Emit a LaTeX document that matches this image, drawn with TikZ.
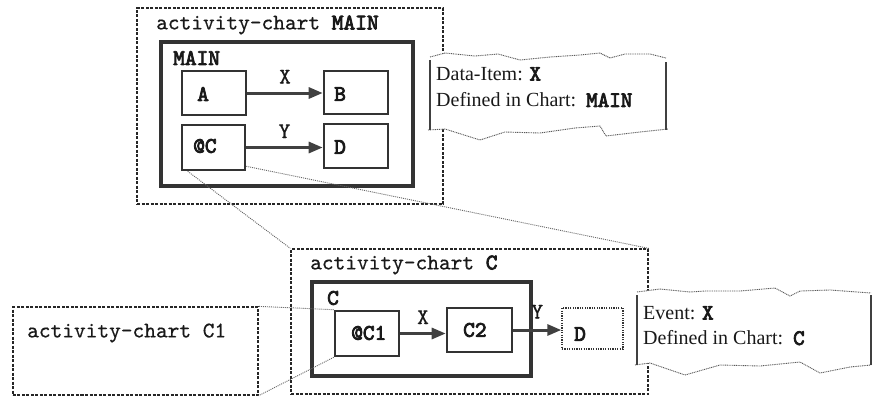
\documentclass[tikz,border=0pt]{standalone}
\usepackage{fontspec}
\setmainfont{Liberation Serif}
\newfontfamily\ttheavy{lmmono10-regular.otf}[FakeBold=3.5]
\newfontfamily\ttplain{lmmono10-regular.otf}[FakeBold=0.6]
\usetikzlibrary{arrows.meta}
\newcommand\notemonofont{\fontsize{22bp}{24bp}\selectfont\ttheavy}

\begin{document}
\begin{tikzpicture}[x=1bp,y=-1bp,
  chartbox/.style={draw=black!85, line width=1.3bp, dash pattern=on 3bp off 1.5bp,
    minimum width=#1, inner sep=0pt},
  framebox/.style={draw=black!80, line width=3.4bp, inner sep=0pt},
  actbox/.style={draw=black!80, line width=2.6bp, fill=white, inner sep=0pt},
  extbox/.style={draw=black!80, line width=1.4bp, dash pattern=on 1.2bp off 1.2bp, inner sep=0pt},
  flow/.style={draw=black!75, line width=3bp, -{Triangle[length=14bp,width=11bp]}},
  zoomline/.style={draw=black!60, line width=0.9bp, dash pattern=on 1bp off 1bp},
  mono/.style={font=\fontsize{22.3bp}{26bp}\selectfont\ttplain, inner sep=0pt, text=black!90},
  monob/.style={font=\fontsize{22.3bp}{26bp}\selectfont\ttheavy, inner sep=0pt, text=black!90},
  notetext/.style={font=\fontsize{20bp}{24bp}\selectfont, inner sep=0pt, anchor=west, text=black!90},
  wavy/.style={draw=black!65, line width=0.9bp, dash pattern=on 1bp off 0.8bp},
  notebar/.style={draw=black!75, line width=2.8bp}
]
\useasboundingbox (0,0) rectangle (880,397);

% ---------- chart MAIN ----------
\node[chartbox=306bp, minimum height=196bp] (mainOuter) at (290,106) {};
\node[mono, anchor=west] (mainTitle) at (156,25) {activity-chart {\ttheavy MAIN}};
\node[framebox, minimum width=252bp, minimum height=144bp] (mainFrame) at (287,114) {};
\node[monob, anchor=west] (mainName) at (173,58) {MAIN};

\node[actbox, minimum width=64bp, minimum height=44bp] (A) at (214,93) {};
\node[actbox, minimum width=64bp, minimum height=43bp] (B) at (356,92.5) {};
\node[actbox, minimum width=63bp, minimum height=45bp] (Cbox) at (213.5,147.5) {};
\node[actbox, minimum width=64bp, minimum height=44bp] (D) at (356,146) {};
\node[monob, anchor=west] (At) at (197,94) {A};
\node[monob, anchor=west] (Bt) at (334,94) {B};
\node[monob, anchor=west] (Ct) at (193,146) {@C};
\node[monob, anchor=west] (Dt) at (334,147) {D};

\draw[flow] (A.east) -- (A.east -| B.west) node[midway, mono, above=8bp] (Xmain) {X};
\draw[flow] (Cbox.east) -- (Cbox.east -| D.west) node[midway, mono, above=8bp] (Ymain) {Y};

% ---------- note on data-item X ----------
\fill[white] (430,57) -- (445,53) -- (475,56) -- (498,54) -- (520,60) -- (550,57)
  -- (580,55) -- (600,53) -- (610,58) -- (625,54) -- (650,54) -- (666,58)
  -- (668,129) -- (640,132) -- (606,136) -- (600,126) -- (575,128) -- (540,133)
  -- (505,132) -- (480,140) -- (445,129) -- (428,130) -- cycle;
\draw[wavy] (430,57) -- (445,53) -- (475,56) -- (498,54) -- (520,60) -- (550,57)
  -- (580,55) -- (600,53) -- (610,58) -- (625,54) -- (650,54) -- (666,58);
\draw[wavy] (428,130) -- (445,129) -- (480,140) -- (505,132) -- (540,133)
  -- (575,128) -- (600,126) -- (606,136) -- (640,132) -- (668,129);
\draw[notebar] (430,60) -- (430,130);
\draw[notebar] (666,62) -- (666,130);
\node[notetext] (n1a) at (436,74) {Data-Item: {\notemonofont X}};
\node[notetext] (n1b) at (436,100) {Defined in Chart:\ \ {\notemonofont MAIN}};

% ---------- chart C ----------
\node[chartbox=357bp, minimum height=145bp] (cOuter) at (469.5,321.5) {};
\node[mono, anchor=west] (cTitle) at (310,265) {activity-chart {\ttheavy C}};
\node[framebox, minimum width=219bp, minimum height=94bp] (cFrame) at (421.5,329) {};
\node[monob, anchor=west] (cName) at (327,298) {C};

\node[actbox, minimum width=64bp, minimum height=45bp] (C1box) at (367,333.5) {};
\node[actbox, minimum width=65bp, minimum height=44bp] (C2) at (479.5,330) {};
\node[extbox, minimum width=61bp, minimum height=41bp] (Dext) at (592.5,328.5) {};
\node[monob, anchor=west] (C1t) at (351,333) {@C1};
\node[monob, anchor=west] (C2t) at (463,330) {C2};
\node[monob, anchor=west] (Dextt) at (574,334) {D};

\draw[flow] (C1box.east) -- (C1box.east -| C2.west) node[midway, mono, above=8bp] (Xc) {X};
\draw[flow] (C2.east) -- (C2.east -| Dext.west) node[midway, mono, above=10bp] (Yc) {Y};

% ---------- note on event X ----------
\fill[white] (637,292) -- (660,289) -- (690,292) -- (705,291) -- (740,291) -- (775,288)
  -- (790,296) -- (800,291) -- (830,290) -- (871,293)
  -- (871,365) -- (850,367) -- (820,373) -- (800,362) -- (760,366) -- (720,365)
  -- (685,375) -- (650,363) -- (635,365) -- cycle;
\draw[wavy] (637,292) -- (660,289) -- (690,292) -- (705,291) -- (740,291) -- (775,288)
  -- (790,296) -- (800,291) -- (830,290) -- (871,293);
\draw[wavy] (635,365) -- (650,363) -- (685,375) -- (720,365) -- (760,366) -- (800,362)
  -- (820,373) -- (850,367) -- (871,365);
\draw[notebar] (637,295) -- (637,365);
\draw[notebar] (871,295) -- (871,365);
\node[notetext] (n2a) at (643,313) {Event: {\notemonofont X}};
\node[notetext] (n2b) at (643,338) {Defined in Chart:\ \ {\notemonofont C}};

% ---------- chart C1 ----------
\node[chartbox=245bp, minimum height=88bp] (c1Outer) at (135.5,351) {};
\node[mono, anchor=west] (c1Title) at (27,333) {activity-chart C1};

% ---------- zoom projections ----------
\draw[zoomline] ([xshift=7bp]Cbox.south west) -- (cOuter.north west);
\draw[zoomline] ([yshift=5bp]Cbox.south east) -- (cOuter.north east);
\draw[zoomline] (C1box.north west) -- (c1Outer.north east);
\draw[zoomline] (C1box.south west) -- (c1Outer.south east);
\end{tikzpicture}
\end{document}
